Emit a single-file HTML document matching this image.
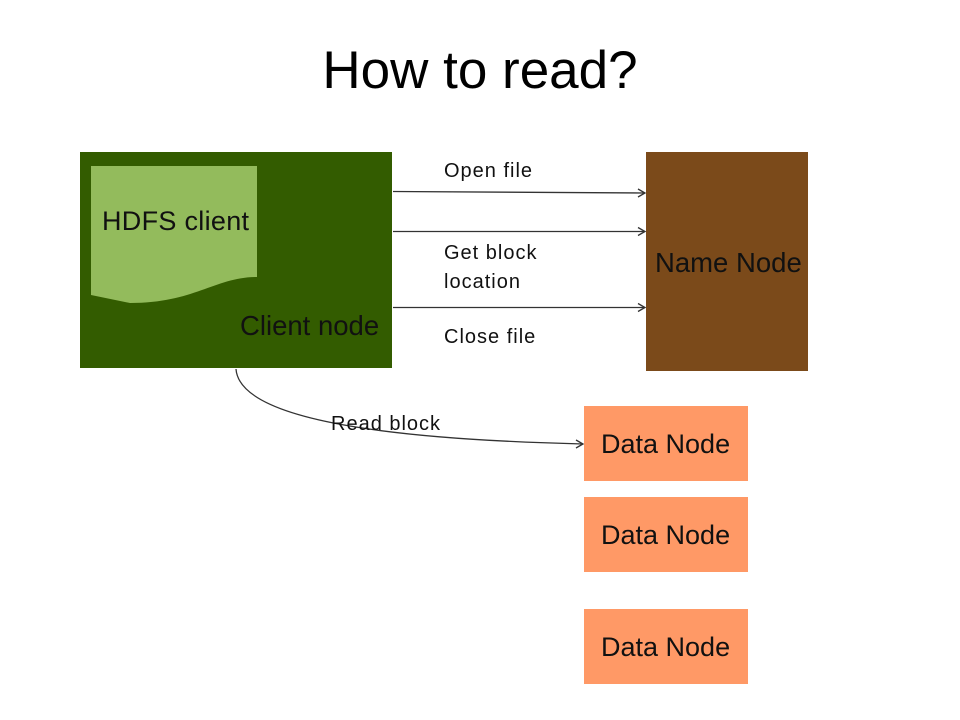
<!DOCTYPE html>
<html><head><meta charset="utf-8"><style>
body{margin:0;width:960px;height:720px;background:#fff;position:relative;overflow:hidden;font-family:"Liberation Sans",sans-serif}
.t{position:absolute;white-space:nowrap}
.s{font-size:20px;letter-spacing:1px;color:#111}
</style></head><body>
<div class="t" style="left:0;width:960px;top:40px;text-align:center;font-size:53px;color:#000">How to read?</div>
<svg width="960" height="720" style="position:absolute;left:0;top:0">
<rect x="80" y="152" width="312" height="216" fill="#335c00"/>
<path d="M91,166 H257 V277 C215,277 195,303 130,303 L91,295 Z" fill="#93bb5c"/>
<rect x="646" y="152" width="162" height="219" fill="#7b4a1a"/>
<rect x="584" y="406" width="164" height="75" fill="#ff9966"/>
<rect x="584" y="497" width="164" height="75" fill="#ff9966"/>
<rect x="584" y="609" width="164" height="75" fill="#ff9966"/>
<g stroke="#333" stroke-width="1.3" fill="none">
<path d="M393,191.5 L645,193"/><path d="M638,189 L645,193 L638,197"/>
<path d="M393,231.5 H645"/><path d="M638,227.5 L645,231.5 L638,235.5"/>
<path d="M393,307.5 H645"/><path d="M638,303.5 L645,307.5 L638,311.5"/>
<path d="M236,369 C240,425 420,440 583,444"/><path d="M576,440 L583,444 L576,448"/>
</g>
</svg>
<div class="t" style="left:102px;top:206px;font-size:27px;color:#111;letter-spacing:0.3px">HDFS client</div>
<div class="t" style="left:240px;top:310px;font-size:27.5px;color:#111">Client node</div>
<div class="t" style="left:655px;top:247px;font-size:27.5px;color:#111">Name Node</div>
<div class="t" style="left:601px;top:429px;font-size:27px;color:#111">Data Node</div>
<div class="t" style="left:601px;top:520px;font-size:27px;color:#111">Data Node</div>
<div class="t" style="left:601px;top:632px;font-size:27px;color:#111">Data Node</div>
<div class="t s" style="left:444px;top:160px">Open file</div>
<div class="t s" style="left:444px;top:239px;line-height:29px">Get block<br>location</div>
<div class="t s" style="left:444px;top:326px">Close file</div>
<div class="t s" style="left:331px;top:413px">Read block</div>
</body></html>
